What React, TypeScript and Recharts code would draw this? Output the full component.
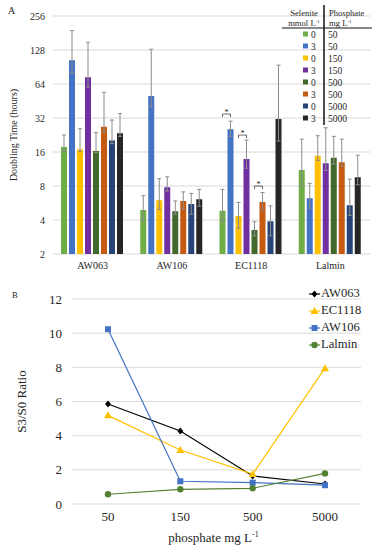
import React from "react";
import { BarChart, Bar, XAxis, YAxis, CartesianGrid, ErrorBar, Legend, LineChart, Line } from "recharts";

// panel A: doubling time (hours), one row per treatment, one value per strain
const strains = ["AW063", "AW106", "EC1118", "Lalmin"];
const selenite = ["0", "3", "0", "3", "0", "3", "0", "3"];
const phosphate = ["50", "50", "150", "150", "500", "500", "5000", "5000"];
const doublingMean = [
  [17.7, 4.9, 4.83, 11.1],
  [104, 50.1, 25.4, 6.22],
  [16.9, 5.98, 4.34, 14.8],
  [73.4, 7.78, 13.9, 12.7],
  [16.3, 4.78, 3.26, 14.2],
  [26.8, 5.9, 5.78, 13.0],
  [20.2, 5.54, 3.89, 5.39],
  [23.4, 6.1, 31.4, 9.58],
];
const doublingLow = [
  [16.2, 3.92, 3.87, 8.0],
  [80, 40, 22, 5.1],
  [16.2, 4.96, 3.38, 13.5],
  [60, 7.2, 11.5, 11],
  [15.8, 4.5, 2.9, 12.5],
  [24, 5.0, 4.9, 12],
  [19, 4.5, 2.9, 4.4],
  [22, 5.3, 20, 8.2],
];
const doublingHigh = [
  [22.6, 6.57, 7.47, 20.8],
  [190, 130, 30, 8.45],
  [25.7, 9.28, 5.73, 22.3],
  [150, 9.65, 20.4, 26.2],
  [23.8, 5.9, 3.86, 22],
  [54, 7.1, 7.0, 20.8],
  [30.7, 6.88, 5.33, 9.2],
  [35, 7.47, 94, 15],
];
const hourTicks = [2, 4, 8, 16, 32, 64, 128, 256];
// significance brackets (EC1118): left treatment index and bracket level in hours
const sigStrain = "EC1118";
const sigLeft = [0, 2, 4];
const sigLevel = [34.7, 22.6, 8.0];

// panel B: S3/S0 ratio
const phosphateLevels = ["50", "150", "500", "5000"];
const ratioAW063 = [5.85, 4.27, 1.64, 1.17];
const ratioEC1118 = [5.19, 3.16, 1.75, 7.95];
const ratioAW106 = [10.23, 1.33, 1.25, 1.1];
const ratioLalmin = [0.57, 0.86, 0.92, 1.79];
const ratioTicks = [0, 2, 4, 6, 8, 10, 12];

const barColors = ["#70AD47", "#4472C4", "#FFC000", "#7030A0", "#43682B", "#C55A11", "#264478", "#262626"];
const lineNames = ["AW063", "EC1118", "AW106", "Lalmin"];
const lineColors = ["#000000", "#FFC000", "#4472C4", "#548235"];
const lineMarkers = ["diamond", "triangle", "square", "circle"];

const FONT = "Liberation Serif, Times New Roman, serif";
const INK = "#262626";
const serif = { fontFamily: FONT };

const barRows = strains.map((s, j) => {
  const row: any = { strain: s };
  doublingMean.forEach((m, i) => {
    row["t" + i] = m[j];
    row["e" + i] = [m[j] - doublingLow[i][j], doublingHigh[i][j] - m[j]];
  });
  return row;
});

const lineSeries = [ratioAW063, ratioEC1118, ratioAW106, ratioLalmin];
const lineRows = phosphateLevels.map((p, i) => {
  const row: any = { p };
  lineNames.forEach((n, k) => (row[n] = lineSeries[k][i]));
  return row;
});

function Marker({ cx, cy, kind, color }: any) {
  if (cx == null || cy == null) return null;
  if (kind === "diamond")
    return <path d={`M${cx} ${cy - 3.5}L${cx + 3} ${cy}L${cx} ${cy + 3.5}L${cx - 3} ${cy}Z`} fill={color} />;
  if (kind === "triangle")
    return <path d={`M${cx} ${cy - 4}L${cx + 4} ${cy + 3}L${cx - 4} ${cy + 3}Z`} fill={color} />;
  if (kind === "square") return <rect x={cx - 3} y={cy - 3} width={6} height={6} fill={color} />;
  return <circle cx={cx} cy={cy} r={3.2} fill={color} />;
}

function xTick(size: number) {
  return (p: any) => (
    <text x={p.x} y={p.y} dy="0.71em" textAnchor="middle" fontSize={size} fill={INK} style={serif}>
      {p.payload.value}
    </text>
  );
}

function yTick(size: number) {
  return (p: any) => (
    <text x={p.x} y={p.y} dy="0.355em" textAnchor="end" fontSize={size} fill={INK} style={serif}>
      {p.payload.value}
    </text>
  );
}

function bracketLabel(series: number) {
  return (p: any) => {
    const k = sigLeft.indexOf(series);
    if (k < 0 || strains[p.index] !== sigStrain) return null;
    const vb = p.viewBox || p;
    const { x, y, width, height } = vb;
    const value = Number(p.value);
    if (!height || !value) return null;
    // pixels per doubling, taken from the bar drawn on the log axis
    const ppu = height / Math.log2(value / 2);
    const ly = y + height - Math.log2(sigLevel[k] / 2) * ppu;
    const x1 = x + width / 2;
    const x2 = x1 + width + 2;
    return (
      <g>
        <path d={`M${x1} ${ly + 3}L${x1} ${ly}L${x2} ${ly}L${x2} ${ly + 3}`} stroke="#404040" fill="none" strokeWidth={0.8} />
        <text x={(x1 + x2) / 2} y={ly + 1} textAnchor="middle" fontSize={8} fill={INK} style={serif}>
          *
        </text>
      </g>
    );
  };
}

function TreatmentLegend() {
  return (
    <svg width={96} height={130} style={serif}>
      <line x1={44} y1={5} x2={44} y2={125} stroke="#111" strokeWidth={1.5} />
      <line x1={2} y1={28} x2={92} y2={28} stroke="#111" strokeWidth={1.2} />
      <text x={24} y={16} fontSize={8.6} textAnchor="middle" fill={INK} style={serif}>Selenite</text>
      <text x={24} y={25.5} fontSize={8.6} textAnchor="middle" fill={INK} style={serif}>
        mmol L<tspan dy={-3} fontSize={5}>-1</tspan>
      </text>
      <text x={49} y={16} fontSize={8.6} fill={INK} style={serif}>Phosphate</text>
      <text x={49} y={25.5} fontSize={8.6} fill={INK} style={serif}>
        mg L<tspan dy={-3} fontSize={5}>-1</tspan>
      </text>
      {selenite.map((s, i) => {
        const yc = 34 + 12 * i;
        return (
          <g key={i}>
            <rect x={23} y={yc - 2.5} width={5} height={5} fill={barColors[i]} />
            <text x={31} y={yc + 3.5} fontSize={9.5} fill={INK} style={serif}>{s}</text>
            <text x={48} y={yc + 3.5} fontSize={9.5} fill={INK} style={serif}>{phosphate[i]}</text>
          </g>
        );
      })}
    </svg>
  );
}

function StrainLegend() {
  return (
    <div style={serif}>
      {lineNames.map((n, k) => (
        <div key={n} style={{ display: "flex", alignItems: "center", height: 17 }}>
          <svg width={12} height={10}>
            <line x1={0} y1={5} x2={11} y2={5} stroke={lineColors[k]} strokeWidth={1.2} />
            <Marker cx={5.5} cy={5} kind={lineMarkers[k]} color={lineColors[k]} />
          </svg>
          <span style={{ fontSize: 12.6, color: INK, lineHeight: "17px", fontFamily: FONT }}>{n}</span>
        </div>
      ))}
    </div>
  );
}

function rotatedLabel(text: string, dx: number, size: number) {
  return (p: any) => {
    const vb = p.viewBox || {};
    const x = (vb.x || 0) + dx;
    const y = (vb.y || 0) + (vb.height || 0) / 2;
    return (
      <text x={x} y={y} transform={`rotate(-90 ${x} ${y})`} textAnchor="middle" dominantBaseline="central"
        fontSize={size} fill={INK} style={serif}>
        {text}
      </text>
    );
  };
}

function phosphateAxisLabel(p: any) {
  const vb = p.viewBox || {};
  const x = (vb.x || 0) + (vb.width || 0) / 2 - 3;
  const y = (vb.y || 0) + 38;
  return (
    <text x={x} y={y} textAnchor="middle" fontSize={13} fill={INK} style={serif}>
      phosphate mg L<tspan dy={-5} fontSize={8}>-1</tspan>
    </text>
  );
}

export default function App() {
  return (
    <div style={{ position: "absolute", left: 0, top: 0, width: 376, height: 550, background: "#fff", fontFamily: FONT }}>
      <div style={{ position: "absolute", left: 8, top: 5, fontSize: 10, color: INK }}>A</div>
      <div style={{ position: "absolute", left: 0, top: 0 }}>
        <BarChart width={376} height={280} data={barRows} margin={{ top: 16, right: 6, bottom: 0, left: 0 }}
          barCategoryGap={8} barGap={2}>
          <CartesianGrid vertical={false} stroke="#d9d9d9" />
          <XAxis dataKey="strain" axisLine={false} tickLine={false} height={26} tick={xTick(10)} />
          <YAxis scale="log" type="number" domain={[2, 256]} ticks={hourTicks} allowDataOverflow width={53}
            axisLine={false} tickLine={false} tick={yTick(10)} label={rotatedLabel("Doubling Time (hours)", 13, 10)} />
          <Legend layout="vertical" align="center" verticalAlign="middle"
            wrapperStyle={{ position: "absolute", left: 280, top: 0, width: 96 }} content={() => <TreatmentLegend />} />
          {selenite.map((s, i) => (
            <Bar key={i} dataKey={"t" + i} name={`${s} / ${phosphate[i]}`} fill={barColors[i]} isAnimationActive={false}
              label={bracketLabel(i)}>
              <ErrorBar dataKey={"e" + i} width={2} stroke="#8c8c8c" strokeWidth={1} isAnimationActive={false} />
            </Bar>
          ))}
        </BarChart>
      </div>
      <div style={{ position: "absolute", left: 12, top: 290, fontSize: 8.5, color: INK }}>B</div>
      <div style={{ position: "absolute", left: 0, top: 280 }}>
        <LineChart width={376} height={270} data={lineRows} margin={{ top: 19, right: 15, bottom: 0, left: 0 }}>
          <CartesianGrid vertical={false} stroke="#d9d9d9" />
          <XAxis dataKey="p" axisLine={false} tickLine={false} height={46} padding={{ left: 36, right: 36 }}
            tick={xTick(13)} label={phosphateAxisLabel} />
          <YAxis type="number" domain={[0, 12]} ticks={ratioTicks} width={72} axisLine={false} tickLine={false}
            tickMargin={4} tick={yTick(13)} label={rotatedLabel("S3/S0 Ratio", 21, 13)} />
          <Legend layout="vertical" align="center" verticalAlign="middle"
            wrapperStyle={{ position: "absolute", left: 309, top: 5, width: 67 }} content={() => <StrainLegend />} />
          {lineNames.map((n, k) => (
            <Line key={n} dataKey={n} name={n} stroke={lineColors[k]} strokeWidth={1.2} isAnimationActive={false}
              dot={(d: any) => <Marker key={d.index} cx={d.cx} cy={d.cy} kind={lineMarkers[k]} color={lineColors[k]} />}
              activeDot={false} />
          ))}
        </LineChart>
      </div>
    </div>
  );
}
